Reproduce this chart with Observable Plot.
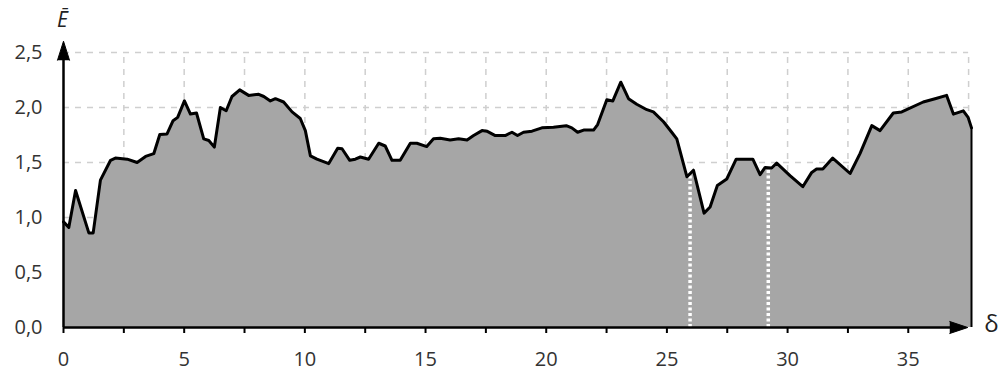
<!DOCTYPE html>
<html>
<head>
<meta charset="utf-8">
<script src="https://cdn.jsdelivr.net/npm/d3@7"></script>
<script src="https://cdn.jsdelivr.net/npm/@observablehq/plot@0.6"></script>
<style>
  body { margin: 0; background: #fff; }
  #chart { width: 998px; height: 374px; }
</style>
</head>
<body>
<div id="chart"></div>
<script>
// Relative deformation δ along the profile
const delta = [
  0, 0.22, 0.5, 1.05, 1.23, 1.53, 1.95, 2.15, 2.64, 3.05, 3.4, 3.74, 3.99, 4.29, 4.54, 4.73,
  5.01, 5.26, 5.51, 5.81, 6.02, 6.25, 6.5, 6.74, 6.98, 7.3, 7.67, 8.09, 8.3, 8.57, 8.78, 9.12,
  9.47, 9.81, 10.02, 10.23, 10.5, 10.99, 11.36, 11.54, 11.86, 12.09, 12.3, 12.64, 13.06, 13.33,
  13.61, 13.95, 14.37, 14.64, 15.05, 15.33, 15.61, 16.02, 16.37, 16.72, 16.99, 17.34, 17.54,
  17.89, 18.3, 18.58, 18.81, 19.06, 19.41, 19.82, 20.3, 20.83, 21.06, 21.3, 21.55, 21.96,
  22.13, 22.51, 22.76, 23.09, 23.41, 23.75, 24.17, 24.44, 24.86, 25.2, 25.41, 25.83, 26.1,
  26.54, 26.79, 27.09, 27.48, 27.87, 28.56, 28.86, 29.07, 29.34, 29.55, 30.1, 30.63, 31.0,
  31.2, 31.46, 31.87, 32.59, 33.0, 33.49, 33.83, 34.38, 34.73, 35.62, 36.11, 36.59, 36.87,
  37.28, 37.48, 37.62
];
// Mean value Ē at each δ
const energy = [
  0.96, 0.91, 1.245, 0.86, 0.86, 1.34, 1.52, 1.54, 1.53, 1.50, 1.555, 1.58, 1.755, 1.76, 1.88, 1.91,
  2.06, 1.94, 1.95, 1.715, 1.70, 1.64, 2.0, 1.97, 2.1, 2.16, 2.11, 2.12, 2.10, 2.06, 2.08, 2.05,
  1.96, 1.90, 1.79, 1.56, 1.53, 1.49, 1.63, 1.625, 1.52, 1.53, 1.55, 1.53, 1.675, 1.65,
  1.52, 1.52, 1.675, 1.675, 1.645, 1.715, 1.72, 1.705, 1.715, 1.705, 1.745, 1.79, 1.785,
  1.745, 1.745, 1.775, 1.745, 1.775, 1.785, 1.815, 1.82, 1.835, 1.815, 1.775, 1.795, 1.795,
  1.845, 2.07, 2.06, 2.23, 2.08, 2.03, 1.98, 1.96, 1.87, 1.775, 1.715, 1.37, 1.43,
  1.04, 1.095, 1.29, 1.35, 1.53, 1.53, 1.39, 1.455, 1.45, 1.495, 1.38, 1.28, 1.41,
  1.44, 1.44, 1.54, 1.40, 1.58, 1.835, 1.79, 1.95, 1.96, 2.05, 2.08, 2.11, 1.94,
  1.97, 1.91, 1.815
];
// Section boundaries marked inside the filled area
const boundaryDelta = [25.96, 29.2];

const xLabelTicks = [0, 5, 10, 15, 20, 25, 30, 35];
const xMinorTicks = [0, 2.5, 5, 7.5, 10, 12.5, 15, 17.5, 20, 22.5, 25, 27.5, 30, 32.5, 35];
const yTicks = [0, 0.5, 1, 1.5, 2, 2.5];
const xGrid = [2.5, 5, 7.5, 10, 12.5, 15, 17.5, 20, 22.5, 25, 27.5, 30, 32.5, 35, 37.5];
const yGrid = [0.5, 1, 1.5, 2, 2.5];

const data = delta.map((d, i) => ({delta: d, e: energy[i]}));

// linear interpolation of the series, so boundary lines stop at the curve
function valueAt(x) {
  for (let i = 0; i < delta.length - 1; i++) {
    if (x >= delta[i] && x <= delta[i + 1]) {
      const t = (x - delta[i]) / (delta[i + 1] - delta[i]);
      return energy[i] + t * (energy[i + 1] - energy[i]);
    }
  }
  return energy[energy.length - 1];
}
const boundaries = boundaryDelta.map(x => ({delta: x, e: valueAt(x)}));
const last = data[data.length - 1];

const fmt = d => d.toFixed(1).replace(".", ",");

const chart = Plot.plot({
  width: 998,
  height: 374,
  marginLeft: 63,
  marginRight: 27,
  marginTop: 52,
  marginBottom: 47,
  style: {fontFamily: "'Open Sans', sans-serif", fontSize: "20px", background: "#fff"},
  x: {domain: [0, last.delta]},
  y: {domain: [0, 2.5]},
  marks: [
    // dashed background grid
    Plot.ruleX(xGrid, {y1: 0, y2: 2.5, stroke: "#cfcfcf", strokeWidth: 1.5, strokeDasharray: "6,6"}),
    Plot.ruleY(yGrid, {x1: 0, x2: 37.5, stroke: "#cfcfcf", strokeWidth: 1.5, strokeDasharray: "6,6"}),
    // filled profile
    Plot.areaY(data, {x: "delta", y: "e", fill: "#a6a6a6"}),
    // boundary markers
    Plot.ruleX(boundaries, {x: "delta", y1: 0, y2: "e", stroke: "#fff", strokeWidth: 3.5, strokeDasharray: "3,2.5"}),
    Plot.lineY(data, {x: "delta", y: "e", stroke: "#000", strokeWidth: 3, strokeLinejoin: "round"}),
    Plot.ruleX([last], {x: "delta", y1: 0, y2: "e", stroke: "#000", strokeWidth: 2}),
    // axes with arrowheads
    Plot.ruleY([0], {x1: 0, x2: 36.8, stroke: "#000", strokeWidth: 2.5}),
    Plot.ruleX([0], {y1: 0, y2: 2.45, stroke: "#000", strokeWidth: 2.5}),
    Plot.vector([{x: 0, y: 2.43}], {x: "x", y: "y", rotate: 0, length: 19, r: 6, shape: "spike", anchor: "start", fill: "#000", stroke: "#000", strokeWidth: 1}),
    Plot.vector([{x: 36.72, y: 0}], {x: "x", y: "y", rotate: 90, length: 18, r: 6, shape: "spike", anchor: "start", fill: "#000", stroke: "#000", strokeWidth: 1}),
    Plot.axisX(xMinorTicks, {tickSize: 6, tickFormat: () => "", label: null, stroke: "#000", strokeWidth: 2}),
    Plot.axisX(xLabelTicks, {tickSize: 0, tickPadding: 24, label: null, fill: "#333"}),
    Plot.axisY(yTicks, {tickSize: 0, tickPadding: 21, tickFormat: fmt, label: null, fill: "#333"}),
    // axis names
    Plot.text(["Ē"], {frameAnchor: "top-left", textAnchor: "middle", lineAnchor: "middle", dx: -1, dy: -32, fontStyle: "italic", fontSize: 21, fill: "#222"}),
    Plot.text(["δ"], {frameAnchor: "bottom-right", textAnchor: "middle", lineAnchor: "middle", dx: 20, dy: -3, fontSize: 24, fill: "#222"})
  ]
});
document.getElementById("chart").appendChild(chart);
</script>
</body>
</html>
